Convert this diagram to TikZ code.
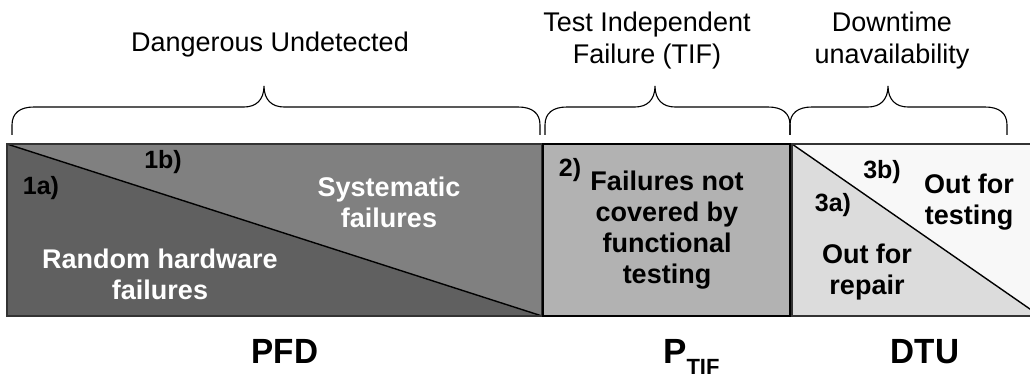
\documentclass[tikz,border=0pt]{standalone}
\usepackage{fontspec}
\setmainfont{Liberation Sans}
\begin{document}
\begin{tikzpicture}[x=1pt,y=-1pt,
  lbl/.style={font=\fontsize{27}{32}\selectfont, align=center, inner sep=0pt},
  blbl/.style={font=\fontsize{27}{31}\selectfont\bfseries, align=center, inner sep=0pt},
  num/.style={font=\fontsize{25}{25}\selectfont\bfseries, inner sep=0pt},
  big/.style={font=\fontsize{35}{35}\selectfont\bfseries, inner sep=0pt},
  bracepath/.style={draw=black, line width=1.1pt},
  thinbox/.style={draw=black!80, line width=1.4pt},
  diag/.style={draw=black, line width=1.4pt}]
\clip (0,0) rectangle (1030,379);
\useasboundingbox (0,0) rectangle (1030,379);
\fill[white] (0,0) rectangle (1030,379);

% corners
\coordinate (p1) at (7,144);
\coordinate (p2) at (542,144);
\coordinate (p3) at (542,316);
\coordinate (p4) at (7,316);
\coordinate (t1) at (543,144);
\coordinate (t3) at (790,316);
\coordinate (d1) at (792,144);
\coordinate (d2) at (1040,144);
\coordinate (d3) at (1040,316);
\coordinate (d4) at (792,316);

% PFD box
\fill[fill={rgb,255:red,96;green,96;blue,96}] (p1) -- (p3) -- (p4) -- cycle;
\fill[fill={rgb,255:red,128;green,128;blue,128}] (p1) -- (p2) -- (p3) -- cycle;
\draw[diag] (p1) -- (p3);
\draw[thinbox] (p1) rectangle (p3);

% TIF box
\draw[fill={rgb,255:red,178;green,178;blue,178}, draw=black, line width=2.8pt] (t1) rectangle (t3);

% DTU box
\fill[fill={rgb,255:red,220;green,220;blue,220}] (d1) -- (d3) -- (d4) -- cycle;
\fill[fill={rgb,255:red,248;green,248;blue,248}] (d1) -- (d2) -- (d3) -- cycle;
\draw[diag] (d1) -- (d3);
\draw[thinbox] (d1) rectangle (d3);

% braces
\foreach \a/\p/\b in {12/264/540, 545/655/790, 790/888/1007}{
  \draw[bracepath] (\a,135) -- (\a,125) .. controls (\a,113) and (\a+8,107) .. (\a+22,107)
    -- (\p-20,107) .. controls (\p-8,107) and (\p,100) .. (\p,86)
    .. controls (\p,100) and (\p+8,107) .. (\p+20,107)
    -- (\b-22,107) .. controls (\b-8,107) and (\b,113) .. (\b,125) -- (\b,135);
}

% top labels
\node[lbl] (du) at (270,45) {Dangerous Undetected};
\node[lbl] (tif) at (647,41) {Test Independent\\Failure (TIF)};
\node[lbl] (dt) at (892,41) {Downtime\\unavailability};

% PFD labels
\node[num] (n1a) at (41,188) {1a)};
\node[num] (n1b) at (163,162) {1b)};
\node[blbl, text=white] (sys) at (389,202) {Systematic\\failures};
\node[blbl, text=white] (rnd) at (160,274) {Random hardware\\failures};

% TIF labels
\node[num] (n2) at (570,170) {2)};
\node[blbl] (fnc) at (667,230) {Failures not\\covered by\\functional\\testing};

% DTU labels
\node[num] (n3a) at (833,205) {3a)};
\node[num] (n3b) at (882,172) {3b)};
\node[blbl] (oft) at (969,202) {Out for\\testing};
\node[blbl] (ofr) at (867,272) {Out for\\repair};

% bottom labels
\node[big, anchor=base, xscale=0.95] (pfd) at (285,363) {PFD};
\node[big, anchor=base west] (ptif) at (663,363) {P\raisebox{-11pt}{\fontsize{22}{22}\selectfont TIF}};
\node[big, anchor=base, xscale=0.95] (dtu) at (925,363) {DTU};
\end{tikzpicture}
\end{document}
